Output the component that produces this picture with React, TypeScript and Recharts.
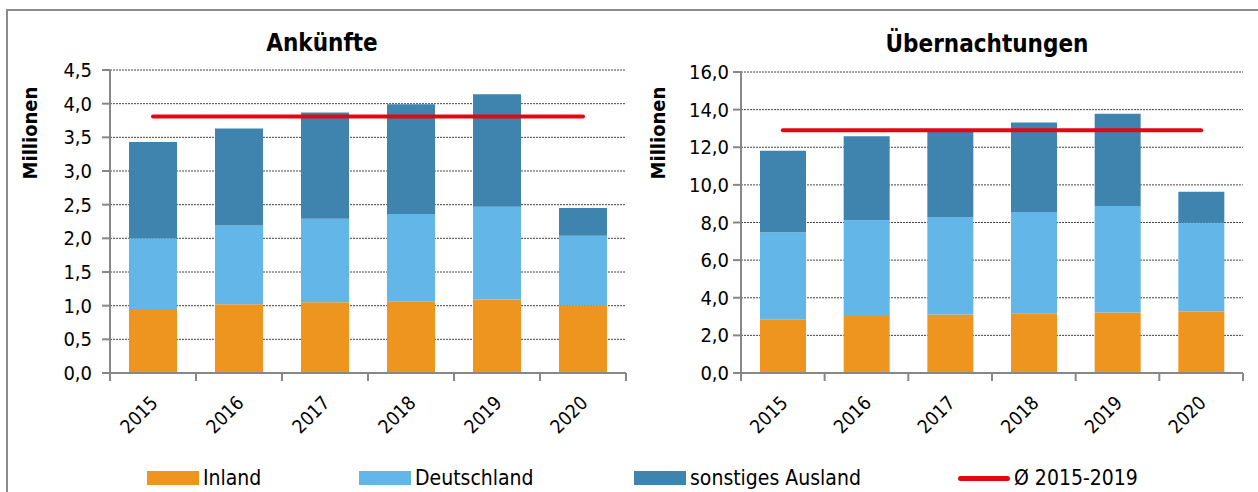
import { ComposedChart, Bar, Line, XAxis, YAxis, CartesianGrid } from 'recharts';

const years = ['2015', '2016', '2017', '2018', '2019', '2020'];

// Ankünfte (Mio.)
const ankInland = [0.95, 1.02, 1.05, 1.06, 1.09, 1.0];
const ankDeutschland = [1.05, 1.17, 1.24, 1.3, 1.38, 1.04];
const ankAusland = [1.43, 1.44, 1.58, 1.63, 1.67, 0.41];
const ankAvg = [3.81, 3.81, 3.81, 3.81, 3.81, 3.81];
const ankTicks = [0, 0.5, 1, 1.5, 2, 2.5, 3, 3.5, 4, 4.5];

// Übernachtungen (Mio.)
const uebInland = [2.86, 3.08, 3.11, 3.18, 3.22, 3.27];
const uebDeutschland = [4.62, 5.04, 5.18, 5.38, 5.66, 4.72];
const uebAusland = [4.33, 4.47, 4.53, 4.75, 4.9, 1.65];
const uebAvg = [12.9, 12.9, 12.9, 12.9, 12.9, 12.9];
const uebTicks = [0, 2, 4, 6, 8, 10, 12, 14, 16];

const C_INLAND = '#EE9520';
const C_DE = '#63B7E8';
const C_AUS = '#3F83AF';
const C_AVG = '#E30613';
const AXIS = '#878787';
const FONT = '"DejaVu Sans Condensed", "DejaVu Sans", sans-serif';

const toRows = (a: number[], b: number[], c: number[], avg: number[]) =>
  years.map((year, i) => ({ year, inland: a[i], de: b[i], aus: c[i], avg: avg[i] }));

const ankData = toRows(ankInland, ankDeutschland, ankAusland, ankAvg);
const uebData = toRows(uebInland, uebDeutschland, uebAusland, uebAvg);

const fmt = (v: number) => v.toFixed(1).replace('.', ',');

const YearTick = ({ x, y, payload, index, band }: any) => (
  <g>
    <line x1={x - band / 2} y1={y - 8} x2={x - band / 2} y2={y} stroke={AXIS} strokeWidth={2} />
    {index === years.length - 1 && (
      <line x1={x + band / 2} y1={y - 8} x2={x + band / 2} y2={y} stroke={AXIS} strokeWidth={2} />
    )}
    <text
      x={x + 6}
      y={y + 23}
      textAnchor="end"
      transform={`rotate(-45, ${x + 6}, ${y + 23})`}
      fontFamily={FONT}
      fontSize={19}
      fill="#000"
    >
      {payload.value}
    </text>
  </g>
);

interface PanelProps {
  data: any[];
  left: number;
  width: number;
  yWidth: number;
  top: number;
  rightMargin: number;
  max: number;
  ticks: number[];
  band: number;
  barSize: number;
  labelGap: number;
}

function Panel({ data, left, width, yWidth, top, rightMargin, max, ticks, band, barSize, labelGap }: PanelProps) {
  return (
    <div style={{ position: 'absolute', left, top: 0 }}>
      <ComposedChart
        width={width}
        height={460}
        data={data}
        margin={{ top, right: rightMargin, bottom: 0, left: 0 }}
      >
        <CartesianGrid vertical={false} stroke="#444" strokeDasharray="2 1" strokeWidth={1} />
        <XAxis
          dataKey="year"
          height={87}
          axisLine={{ stroke: AXIS, strokeWidth: 2 }}
          tickLine={false}
          interval={0}
          tick={<YearTick band={band} />}
        />
        <YAxis
          width={yWidth}
          domain={[0, max]}
          ticks={ticks}
          tickFormatter={fmt}
          axisLine={{ stroke: AXIS, strokeWidth: 2 }}
          tickLine={{ stroke: AXIS, strokeWidth: 2 }}
          tickSize={8}
          tickMargin={labelGap}
          tick={{ fill: '#000', fontSize: 20, fontFamily: FONT }}
        />
        <Bar dataKey="inland" stackId="s" fill={C_INLAND} barSize={barSize} isAnimationActive={false} />
        <Bar dataKey="de" stackId="s" fill={C_DE} barSize={barSize} isAnimationActive={false} />
        <Bar dataKey="aus" stackId="s" fill={C_AUS} barSize={barSize} isAnimationActive={false} />
        <Line
          dataKey="avg"
          stroke={C_AVG}
          strokeWidth={4}
          strokeLinecap="round"
          dot={false}
          activeDot={false}
          isAnimationActive={false}
        />
      </ComposedChart>
    </div>
  );
}

const titleStyle = (left: number, top: number): React.CSSProperties => ({
  position: 'absolute',
  left,
  top,
  width: 300,
  textAlign: 'center',
  fontFamily: FONT,
  fontWeight: 'bold',
  fontSize: 24,
  color: '#000',
});

const yLabelStyle = (left: number): React.CSSProperties => ({
  position: 'absolute',
  left,
  top: 133,
  transform: 'translate(-50%, -50%) rotate(-90deg)',
  fontFamily: FONT,
  fontWeight: 'bold',
  fontSize: 20,
  color: '#000',
  whiteSpace: 'nowrap',
});

const legendItems = [
  { label: 'Inland', color: C_INLAND, x: 147, line: false },
  { label: 'Deutschland', color: C_DE, x: 359, line: false },
  { label: 'sonstiges Ausland', color: C_AUS, x: 634, line: false },
  { label: 'Ø 2015-2019', color: C_AVG, x: 958, line: true },
];

export default function App() {
  return (
    <div
      style={{
        position: 'absolute',
        left: 0,
        top: 0,
        width: 1258,
        height: 492,
        overflow: 'hidden',
        background: '#fff',
        fontFamily: FONT,
      }}
    >
      <div
        style={{
          position: 'absolute',
          left: 6,
          top: 9,
          width: 1270,
          height: 500,
          border: '2px solid #8c8c8c',
        }}
      />
      <Panel data={ankData} left={0} width={640} yWidth={110} top={70} rightMargin={14} max={4.5} ticks={ankTicks} band={86} barSize={48} labelGap={10} />
      <Panel data={uebData} left={640} width={618} yWidth={101} top={72} rightMargin={15} max={16} ticks={uebTicks} band={83.7} barSize={46} labelGap={4} />
      <div style={titleStyle(172, 29)}>Ankünfte</div>
      <div style={titleStyle(837, 30)}>Übernachtungen</div>
      <div style={yLabelStyle(30)}>Millionen</div>
      <div style={yLabelStyle(658)}>Millionen</div>
      {legendItems.map((it) => (
        <div
          key={it.label}
          style={{ position: 'absolute', left: it.x, top: 465, height: 26, display: 'flex', alignItems: 'center' }}
        >
          {it.line ? (
            <div style={{ width: 52, height: 5, background: it.color, borderRadius: 3 }} />
          ) : (
            <div style={{ width: 52, height: 14, background: it.color }} />
          )}
          <span style={{ marginLeft: 4, fontSize: 21, color: '#000' }}>{it.label}</span>
        </div>
      ))}
    </div>
  );
}
